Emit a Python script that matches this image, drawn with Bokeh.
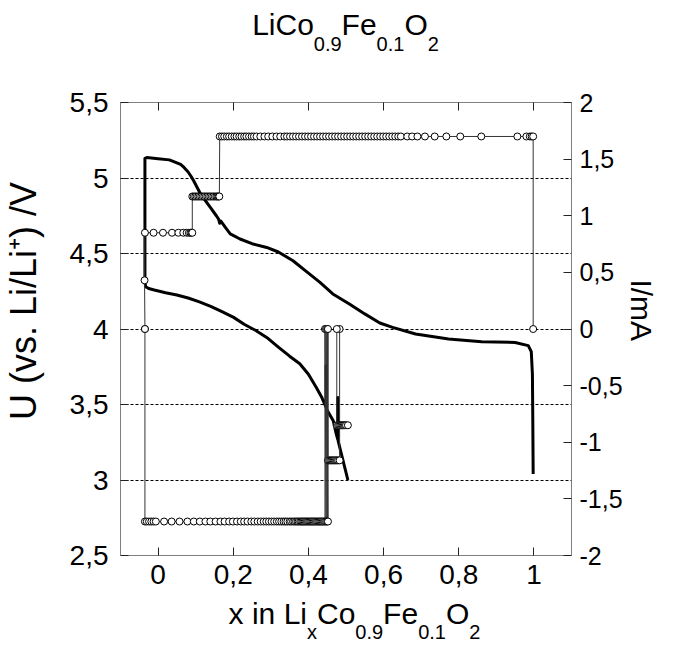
import math
from bokeh.plotting import figure
from bokeh.models import Range1d, LinearAxis, FixedTicker, CustomJSTickFormatter
from bokeh.core.properties import value
from bokeh.layouts import column, row
from bokeh.embed import file_html
from bokeh.resources import INLINE

# ---------------- data ----------------
x_ticks = [0, 0.2, 0.4, 0.6, 0.8, 1.0]
u_ticks = [2.5, 3, 3.5, 4, 4.5, 5, 5.5]
i_ticks = [-2, -1.5, -1, -0.5, 0, 0.5, 1, 1.5, 2]

# voltage, first run (upper curve)
u1_x = [-0.035, -0.035, -0.030, 0.000, 0.030, 0.050, 0.060, 0.069, 0.080, 0.088, 0.095,
        0.113, 0.139, 0.155, 0.161, 0.164, 0.167, 0.180, 0.192, 0.218, 0.250, 0.289,
        0.320, 0.359, 0.400, 0.430, 0.465, 0.509, 0.550, 0.590, 0.624, 0.685, 0.773,
        0.861, 0.950, 0.985, 0.993, 0.996, 0.997, 0.998]
u1_u = [4.31, 5.13, 5.135, 5.128, 5.12, 5.10, 5.09, 5.07, 5.04, 5.01, 4.98,
        4.894, 4.805, 4.75, 4.728, 4.70, 4.715, 4.67, 4.63, 4.596, 4.565, 4.54,
        4.51, 4.452, 4.37, 4.31, 4.232, 4.166, 4.10, 4.04, 4.011, 3.967, 3.934,
        3.916, 3.911, 3.89, 3.85, 3.70, 3.40, 3.04]

# voltage, second run (lower curve, with two rest relaxations)
u2_x = [-0.035, -0.033, -0.025, -0.010, 0.020, 0.050, 0.080, 0.110, 0.140, 0.170,
        0.201, 0.230, 0.260, 0.289, 0.320, 0.350, 0.377, 0.400, 0.421, 0.435, 0.447,
        0.447, 0.448, 0.466, 0.474, 0.478, 0.478, 0.479, 0.490, 0.505]
u2_u = [4.31, 4.28, 4.268, 4.258, 4.24, 4.225, 4.205, 4.18, 4.15, 4.115,
        4.077, 4.03, 3.99, 3.944, 3.88, 3.82, 3.77, 3.70, 3.613, 3.55, 3.48,
        3.757, 3.47, 3.393, 3.305, 3.27, 3.547, 3.26, 3.15, 3.00]

# current, first run: level of each step and x of the points recorded at it
i1_levels = [0.0, 0.43, 0.85, 1.17, 1.70, 0.0]
i1_x = [
    [-0.035],
    [-0.036],
    [-0.035, -0.012, 0.013, 0.037, 0.054, 0.067, 0.076, 0.082, 0.086, 0.089, 0.091],
    [0.091, 0.095, 0.099, 0.103, 0.107, 0.111, 0.115, 0.119, 0.123, 0.127, 0.131,
     0.135, 0.139, 0.143, 0.147, 0.151, 0.155, 0.158, 0.161, 0.163],
    [0.164, 0.170, 0.176, 0.183, 0.189, 0.196, 0.203, 0.209, 0.216, 0.222, 0.229,
     0.235, 0.242, 0.249, 0.255, 0.262, 0.272, 0.283, 0.293, 0.304, 0.315, 0.325,
     0.336, 0.343, 0.351, 0.359, 0.367, 0.375, 0.383, 0.391, 0.399, 0.407, 0.415,
     0.423, 0.431, 0.439, 0.447, 0.455, 0.463, 0.471, 0.479, 0.487, 0.495, 0.503,
     0.511, 0.519, 0.527, 0.535, 0.543, 0.551, 0.559, 0.567, 0.575, 0.583, 0.591,
     0.599, 0.607, 0.615, 0.623, 0.631, 0.639, 0.646, 0.663, 0.676, 0.690, 0.710,
     0.736, 0.767, 0.804, 0.860, 0.956, 0.980, 0.989, 0.994, 0.998],
    [0.998],
]

# current, second run
i2_levels = [0.0, -1.70, 0.0, -1.70, 0.0, -1.70, 0.0, -1.70, 0.0, -1.16, 0.0, -0.85]
i2_x = [
    [-0.035],
    [-0.035, -0.030, -0.024, -0.018, -0.012, -0.006, 0.016, 0.036, 0.057, 0.078,
     0.095, 0.111, 0.126, 0.139, 0.153, 0.166, 0.177, 0.189, 0.199, 0.210, 0.220,
     0.229, 0.238, 0.248, 0.256, 0.265, 0.273, 0.281, 0.288, 0.295, 0.302, 0.309,
     0.316, 0.322, 0.328, 0.334, 0.339, 0.344, 0.350, 0.354, 0.359, 0.363, 0.367,
     0.371, 0.374, 0.378, 0.381, 0.384, 0.387, 0.390, 0.393, 0.396, 0.399, 0.402,
     0.405, 0.408, 0.411, 0.414, 0.417, 0.420, 0.423, 0.426, 0.429, 0.432, 0.435,
     0.438, 0.441, 0.444],
    [0.444],
    [0.447],
    [0.447],
    [0.450],
    [0.450],
    [0.452],
    [0.452],
    [0.452, 0.455, 0.458, 0.461, 0.464, 0.467, 0.470, 0.473, 0.476, 0.479, 0.483],
    [0.483, 0.4755],
    [0.4755, 0.479, 0.482, 0.485, 0.488, 0.491, 0.494, 0.497, 0.500, 0.505],
]

title_pieces = [("LiCo", 0), ("0.9", 1), ("Fe", 0), ("0.1", 1), ("O", 0), ("2", 1)]
xlabel_pieces = [("x in Li", 0), ("x", 1), ("Co", 0), ("0.9", 1), ("Fe", 0), ("0.1", 1),
                 ("O", 0), ("2", 1)]
ylabel_text = "U (vs. Li/Li\u207a) /V"
rlabel_text = "I/mA"


def flatten(levels, xs):
    fx, fy = [], []
    for lev, seg in zip(levels, xs):
        for v in seg:
            fx.append(v)
            fy.append(lev)
    return fx, fy


c1_x, c1_i = flatten(i1_levels, i1_x)
c2_x, c2_i = flatten(i2_levels, i2_x)

# ---------------- layout (page pixels, figure origin at page 0,0) ----------------
TOTAL_W = 668
FRAME = 453
TOP_H = 64                    # title strip
B_TOP, B_BOT = 38, 41         # main figure borders
MID_H = B_TOP + FRAME + B_BOT
BOT_H = 660 - TOP_H - MID_H   # x-label strip
LEFT_W = 60                   # y-label strip
B_LEFT, B_RIGHT = 60, 52
MAIN_W = B_LEFT + FRAME + B_RIGHT
RIGHT_W = TOTAL_W - LEFT_W - MAIN_W
FONT = "Liberation Sans"
MAIN, SUB = 30, 20
SHIFT = 0.4                   # alphabetic-anchor correction, in em

p = figure(width=MAIN_W, height=MID_H, x_range=Range1d(-0.1, 1.1), y_range=Range1d(2.5, 5.5),
           output_backend="svg", toolbar_location=None, title_location=None,
           min_border_left=B_LEFT, min_border_right=B_RIGHT,
           min_border_top=B_TOP, min_border_bottom=B_BOT)
p.extra_y_ranges = {"cur": Range1d(-2, 2)}
p.background_fill_color = "white"
p.border_fill_color = "white"
p.outline_line_color = "#808080"
p.outline_line_width = 1

fmt_code = "return String(Math.round(tick*10)/10).replace('.', ',');"


def style_axis(ax, standoff, fs):
    ax.axis_line_color = None
    ax.major_tick_in = 8
    ax.major_tick_out = 0
    ax.minor_tick_line_color = None
    ax.major_tick_line_color = "#222222"
    ax.major_label_text_font = FONT
    ax.major_label_text_font_size = fs
    ax.major_label_text_color = "black"
    ax.major_label_standoff = standoff


xa = p.xaxis[0]
xa.ticker = FixedTicker(ticks=x_ticks)
xa.formatter = CustomJSTickFormatter(code=fmt_code)
style_axis(xa, 9, "28px")

ya = p.yaxis[0]
ya.ticker = FixedTicker(ticks=u_ticks)
ya.formatter = CustomJSTickFormatter(code=fmt_code)
style_axis(ya, 12, "28px")

ra = LinearAxis(y_range_name="cur", ticker=FixedTicker(ticks=i_ticks),
                formatter=CustomJSTickFormatter(code=fmt_code))
style_axis(ra, 8, "25px")
p.add_layout(ra, "right")

# top axis: inward ticks only, labels not drawn
ta = LinearAxis(ticker=FixedTicker(ticks=x_ticks), formatter=CustomJSTickFormatter(code=fmt_code))
style_axis(ta, 0, "20px")
ta.major_label_text_color = None
p.add_layout(ta, "above")

p.xgrid.grid_line_color = None
p.ygrid.ticker = FixedTicker(ticks=u_ticks)
p.ygrid.grid_line_color = "black"
p.ygrid.grid_line_dash = "3 2"
p.ygrid.grid_line_width = 1

# voltage curves
p.line(u1_x, u1_u, line_color="black", line_width=3, line_join="round")
p.line(u2_x, u2_u, line_color="black", line_width=3, line_join="round")

# current curves
for cx, ci in ((c1_x, c1_i), (c2_x, c2_i)):
    p.line(cx, ci, y_range_name="cur", line_color="#333333", line_width=1)
    p.scatter(cx, ci, y_range_name="cur", marker="circle", size=7,
              fill_color="white", line_color="black", line_width=1)

# ---------------- text strips ----------------
AW = {'L': 0.556, 'i': 0.222, 'C': 0.722, 'o': 0.556, 'F': 0.611, 'e': 0.556, 'O': 0.778,
      '0': 0.556, '1': 0.556, '2': 0.556, '9': 0.556, '.': 0.278, ' ': 0.278, 'x': 0.5,
      'n': 0.556}


def tw(s, size):
    return sum(AW[c] for c in s) * size


def strip(w, h):
    f = figure(width=w, height=h, x_range=Range1d(0, w), y_range=Range1d(h, 0),
               output_backend="svg", toolbar_location=None, title_location=None,
               min_border=0, x_axis_location=None, y_axis_location=None)
    f.outline_line_color = None
    f.grid.grid_line_color = None
    f.background_fill_color = "white"
    f.border_fill_color = "white"
    return f


def put(f, x, y, txt, size, angle=0.0, align="left"):
    f.text(x=[x], y=[y], text=[txt], text_font=value(FONT), text_font_size=value(f"{size}px"),
           text_align=align, text_baseline="alphabetic", angle=angle, text_color="black")


def horiz(f, pieces, center_x, base_y, drop):
    total = sum(tw(t, SUB if s else MAIN) for t, s in pieces)
    cur = center_x - total / 2
    for t, s in pieces:
        size = SUB if s else MAIN
        put(f, cur, base_y + (drop if s else 0) - SHIFT * size, t, size)
        cur += tw(t, size)


top = strip(TOTAL_W, TOP_H)
horiz(top, title_pieces, 345, 36, 15.7)

bot = strip(TOTAL_W, BOT_H)
horiz(bot, xlabel_pieces, 354, 625 - (TOP_H + MID_H), 14.5)

# left axis title, rotated, reading upwards
YL = 36
left = strip(LEFT_W, MID_H)
put(left, 37.4 - SHIFT * YL, 297 - TOP_H, ylabel_text, YL, angle=math.pi / 2, align="center")

# right axis title, rotated, reading downwards
right = strip(RIGHT_W, MID_H)
put(right, 641 - (LEFT_W + MAIN_W), 308 - TOP_H, rlabel_text, MAIN, angle=-math.pi / 2,
    align="center")

layout = column(top, row(left, p, right), bot)
open("out.html", "w").write(file_html(layout, INLINE))
